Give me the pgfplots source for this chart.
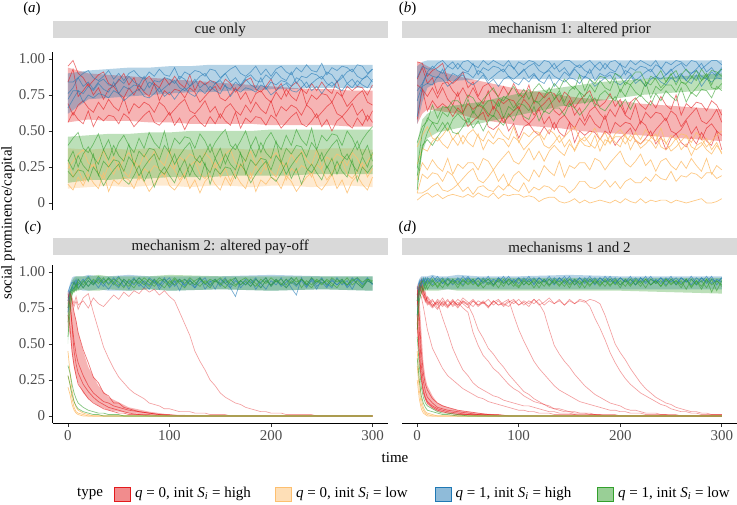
\documentclass[border=0pt]{standalone}
\usepackage{pgfplots}
\pgfplotsset{compat=1.18}
\usepackage{pgfplotstable}
\usepgfplotslibrary{fillbetween}
\usepackage{fontspec}
\setmainfont{Liberation Serif}
\definecolor{cr}{HTML}{E31A1C}
\definecolor{co}{HTML}{FDBF6F}
\definecolor{cb}{HTML}{1F78B4}
\definecolor{cg}{HTML}{33A02C}
\definecolor{strip}{HTML}{D9D9D9}
\definecolor{tk}{HTML}{4D4D4D}
\definecolor{st}{HTML}{1A1A1A}
\newcommand\F{\fontsize{15}{18}\selectfont}

% values in percent of social prominence/capital
\pgfplotstableread{
t r1 r2 r3 r4 o1 o2 o3 b1 b2 b3 b4 g1 g2 g3 g4
0 95 84 69 56 24 28 13 84 76 72 66 40 29 30 22
5 99 93 61 63 29 18 9 84 80 78 72 45 36 23 18
10 90 74 68 58 34 24 18 87 87 78 78 49 25 33 23
15 87 78 71 55 37 15 12 90 81 76 70 38 34 26 22
20 81 83 66 64 28 23 20 92 84 81 75 35 39 22 15
25 85 75 63 53 25 27 14 87 79 78 73 41 32 34 25
30 89 80 70 60 30 21 10 85 84 83 76 48 27 19 20
35 91 72 65 57 36 17 21 88 86 79 75 37 37 29 12
40 83 79 72 61 26 26 8 92 82 77 73 44 30 25 18
45 81 81 67 60 32 20 16 86 81 84 78 33 40 30 23
50 85 76 64 55 23 28 13 90 86 76 76 42 33 29 27
55 90 73 73 62 31 22 18 85 83 81 71 47 29 22 16
60 82 80 62 59 35 18 16 90 88 79 74 40 41 32 13
65 87 75 69 53 29 29 10 92 84 82 77 35 26 27 19
70 78 82 66 57 25 16 19 88 82 81 79 45 36 19 26
75 85 77 70 61 34 24 15 86 88 78 74 38 32 25 15
80 88 74 68 64 28 21 8 91 80 84 73 49 38 30 22
85 83 83 63 56 36 26 13 88 85 82 76 42 37 34 11
90 80 71 70 54 30 24 18 93 84 77 80 38 30 23 20
95 87 78 67 58 26 18 21 89 87 80 74 50 40 20 25
100 82 75 61 63 37 27 12 88 86 83 77 35 35 26 19
105 88 79 65 54 24 23 9 94 83 85 72 45 27 34 14
110 83 78 69 59 32 16 14 86 88 80 77 41 33 23 24
115 80 73 72 51 29 21 20 91 86 78 80 46 38 30 17
120 89 80 64 58 34 26 10 89 81 81 76 45 42 19 27
125 78 77 62 61 32 29 16 92 84 86 74 38 31 28 20
130 85 70 66 56 26 20 7 91 88 80 79 48 28 33 16
135 82 74 71 53 35 17 15 88 90 83 76 43 34 26 28
140 85 78 63 60 31 22 19 93 85 78 81 35 41 21 13
145 84 81 67 55 24 28 13 92 83 83 78 42 31 31 24
150 79 73 59 62 29 18 9 87 86 85 76 47 38 24 20
155 86 71 66 57 34 24 18 90 90 81 82 51 27 34 25
160 83 75 69 54 37 15 12 93 84 79 74 40 36 27 24
165 77 80 64 63 28 23 20 95 87 84 79 37 41 23 17
170 81 72 61 52 25 27 14 90 82 81 77 43 34 35 27
175 85 77 68 59 30 21 10 88 87 86 80 50 29 20 22
180 87 69 63 56 36 17 21 91 89 82 79 39 39 30 14
185 79 76 70 60 26 26 8 95 85 80 77 46 32 26 20
190 77 78 65 59 32 20 16 89 84 87 82 35 42 31 25
195 81 73 62 54 23 28 13 93 89 79 80 44 35 30 29
200 86 70 71 61 31 22 18 88 86 84 75 49 31 23 18
205 78 77 60 58 35 18 16 93 91 82 78 42 43 33 15
210 83 72 67 52 29 29 10 95 87 85 81 37 28 28 21
215 74 79 64 56 25 16 19 91 85 84 83 47 38 20 28
220 81 74 68 60 34 24 15 89 91 81 78 40 34 26 17
225 84 71 66 63 28 21 8 94 83 87 77 51 40 31 24
230 79 80 61 55 36 26 13 91 88 85 80 44 39 35 13
235 76 68 68 53 30 24 18 96 87 80 84 40 32 24 22
240 83 75 65 57 26 18 21 92 90 83 78 52 42 21 27
245 78 72 59 62 37 27 12 91 89 86 81 37 37 27 21
250 84 76 63 53 24 23 9 97 86 88 76 47 29 35 16
255 79 75 67 58 32 16 14 89 91 83 81 43 35 24 26
260 76 70 70 50 29 21 20 94 89 81 84 48 40 31 19
265 85 77 62 57 34 26 10 92 84 84 80 47 44 20 29
270 74 74 60 60 32 29 16 95 87 89 78 40 33 29 22
275 81 67 64 55 26 20 7 94 91 83 83 50 30 34 18
280 78 71 69 52 35 17 15 91 93 86 80 45 36 27 30
285 81 75 61 59 31 22 19 96 88 81 85 37 43 22 15
290 80 78 65 54 24 28 13 95 86 86 82 44 33 32 25
295 75 70 57 61 29 18 9 90 89 88 80 49 40 25 21
300 82 68 64 56 34 24 18 93 93 84 86 53 29 35 26
}\tA
\pgfplotstableread{
t rlo rhi olo ohi blo bhi glo ghi
0 56 94 10 38 62 90 14 46
20 58 90 11 37 72 92 16 47
40 57 89 12 38 73 93 16 48
60 57 88 11 37 74 94 17 48
80 56 87 12 38 75 94 17 49
100 56 86 12 38 76 95 18 49
120 55 85 11 37 77 95 18 50
140 55 84 12 38 77 96 18 50
160 55 83 12 38 78 96 19 50
180 55 82 11 37 78 96 19 50
200 54 81 12 38 79 96 19 51
220 54 80 12 38 79 96 19 51
240 54 79 11 37 80 96 20 51
260 54 79 12 38 80 96 20 51
280 53 78 12 38 80 96 20 51
300 53 78 11 37 80 96 20 51
}\bA
\pgfplotstableread{
t r1 r2 r3 r4 b1 b2 b3 b4 g1 g2 g3 g4 o1 o2 o3 o4 o5 o6
0 98 86 82 58 87 78 71 60 9 19 24 42 39 27 16 7 7 2
5 97 94 79 79 95 83 82 81 40 38 49 53 47 38 28 20 7 5
10 88 83 74 64 93 91 90 83 44 49 59 57 53 36 23 17 9 7
15 92 87 80 71 93 95 88 82 40 56 56 68 45 43 30 21 12 4
20 94 76 73 66 97 92 87 88 46 50 55 59 43 46 25 20 14 6
25 97 83 80 69 99 90 93 86 51 56 63 67 47 41 22 15 9 3
30 86 84 72 66 95 95 85 81 56 50 60 66 52 38 31 22 8 5
35 83 78 68 60 98 93 90 84 49 58 68 71 44 45 20 19 10 6
40 86 74 77 66 93 97 88 87 48 62 64 71 49 40 27 13 13 5
45 91 80 63 62 98 93 91 89 53 58 62 67 41 47 24 17 8 4
50 80 73 69 53 99 91 90 84 59 56 72 75 48 42 28 21 11 6
55 84 80 65 57 96 97 87 82 52 64 62 73 51 39 28 24 6 4
60 74 73 68 60 94 89 92 85 57 59 69 67 46 48 23 16 11 7
65 81 69 66 63 99 94 90 89 50 67 67 72 43 37 31 14 12 5
70 83 78 60 53 96 92 85 83 57 62 71 76 50 44 29 18 9 4
75 78 65 67 51 99 95 88 86 61 60 71 80 45 41 23 23 8 7
80 74 72 63 54 97 94 91 81 57 70 67 73 52 45 28 15 12 3
85 81 69 56 60 95 91 93 86 54 59 74 71 47 44 32 20 9 6
90 75 72 60 50 99 96 88 88 62 67 72 76 44 39 36 12 13 5
95 83 71 64 55 93 94 86 84 57 64 66 81 53 46 29 19 10 6
100 76 65 67 45 98 89 89 82 65 69 71 74 42 43 27 22 8 6
105 73 72 58 53 96 92 93 87 60 68 75 79 49 37 32 18 14 4
110 82 68 55 55 99 95 87 84 58 64 79 72 46 41 38 15 7 5
115 69 61 59 50 98 97 90 89 67 71 71 79 50 45 30 23 11 4
120 77 66 65 47 95 92 85 85 57 69 70 83 49 48 36 18 9 1
125 73 69 55 53 99 90 90 83 64 63 74 78 44 40 29 26 12 3
130 77 73 60 48 98 93 92 89 62 68 80 76 51 38 36 22 11 4
135 76 64 51 56 93 97 88 81 66 72 72 83 48 42 40 19 8 4
140 70 61 58 49 96 91 86 86 66 76 78 79 42 47 36 29 12 1
145 77 65 61 46 99 94 91 84 61 68 70 86 46 39 33 18 11 0
150 74 71 56 56 99 89 88 87 69 67 78 82 50 44 41 26 7 1
155 66 61 52 42 96 94 93 86 66 71 81 79 53 36 37 24 10 3
160 71 66 59 50 94 96 89 83 61 77 77 89 45 43 44 28 15 0
165 75 57 54 47 97 92 87 88 65 69 74 78 43 46 40 28 15 2
170 78 64 61 50 99 90 93 86 70 75 82 86 47 41 39 23 11 0
175 69 67 55 49 95 95 85 81 73 67 77 83 52 38 47 31 10 1
180 67 62 52 44 98 92 90 84 66 75 85 88 44 45 36 29 12 2
185 70 58 61 50 93 97 88 87 64 78 80 87 49 40 44 23 16 1
190 76 65 48 47 98 93 91 89 69 74 78 83 41 47 42 28 11 0
195 67 60 56 40 99 91 90 84 74 71 87 90 48 42 46 32 15 2
200 72 68 53 45 96 97 87 82 67 79 77 88 51 39 46 36 10 0
205 62 61 56 48 94 89 92 85 72 74 84 82 46 48 41 28 15 3
210 70 58 55 52 99 94 90 89 65 82 82 87 43 37 47 25 17 1
215 73 68 50 43 96 92 85 83 72 77 86 91 49 44 44 29 14 0
220 68 55 57 41 99 95 88 86 75 74 85 91 44 41 38 34 14 3
225 65 63 54 45 97 94 91 81 71 84 81 84 51 44 41 26 18 0
230 71 59 46 50 95 91 93 86 68 73 88 82 46 43 45 30 15 2
235 66 63 51 41 99 96 88 88 76 81 86 87 43 38 48 22 20 1
240 74 62 55 46 93 94 86 84 71 78 80 92 52 45 39 29 17 2
245 68 57 59 37 98 89 89 82 78 82 84 84 41 42 37 31 16 2
250 65 64 50 45 96 92 93 87 74 82 89 90 47 36 40 26 22 0
255 75 61 48 48 99 95 87 84 71 77 92 82 44 39 45 23 15 2
260 61 53 51 42 98 97 90 89 80 84 84 89 48 43 37 29 19 1
265 69 58 57 39 95 92 85 85 70 82 83 93 47 47 41 24 18 0
270 66 62 48 46 99 90 90 83 77 76 87 88 42 39 33 31 21 1
275 70 66 53 41 98 93 92 89 74 80 92 85 49 37 40 26 20 2
280 69 57 44 49 93 97 88 81 79 85 85 93 45 40 42 22 17 3
285 64 55 52 43 96 91 86 86 78 88 90 88 39 45 37 31 21 0
290 71 59 55 40 99 94 91 84 73 80 82 92 43 37 34 20 21 0
295 68 65 50 50 99 89 88 87 81 79 90 91 47 42 40 26 17 1
300 61 56 47 37 96 94 93 86 78 83 93 88 50 34 35 23 19 3
}\tB
\pgfplotstableread{
t rlo rhi blo bhi glo ghi
0 55 98 55 95 10 42
5 62 97 70 98 35 58
10 65 95 80 99 45 62
20 64 92 84 99 49 66
40 62 88 85 99 52 68
60 58 85 86 99 55 70
80 56 82 86 99 58 73
100 54 79 86 99 61 76
120 53 77 86 99 64 78
140 52 75 86 99 67 80
160 50 73 86 99 69 82
180 49 72 86 99 71 84
200 48 71 86 99 73 85
220 47 69 86 99 75 86
240 46 68 86 99 76 87
260 45 67 86 99 77 88
280 44 66 86 99 78 89
300 43 65 86 99 79 90
}\bB
\pgfplotstableread{
t b1 b2 b3 G1 G2 G3 s1 s2
0 72 80 86 55 65 75 78 80
2 85 88 90 72 80 85 84 86
4 90 87 93 84 88 90 80 82
6 88 94 91 90 86 93 76 78
8 93 90 95 87 92 89 80 83
10 91 95 89 93 88 95 74 77
15 95 89 93 89 94 91 82 80
20 90 94 97 94 90 96 85 75
25 94 91 92 91 95 92 72 82
30 89 96 94 95 92 97 60 78
35 95 92 90 92 96 93 48 76
40 92 88 96 96 91 95 40 80
45 96 93 92 93 95 91 33 84
50 91 97 89 90 93 96 27 81
55 94 90 95 95 89 93 23 86
60 88 94 92 92 95 90 19 83
65 95 91 96 89 92 95 16 87
70 92 96 90 94 96 92 14 85
75 89 92 94 91 93 96 12 89
80 96 88 91 95 90 93 9 86
85 93 94 95 92 95 90 8 88
90 90 91 88 96 92 94 7 84
95 95 96 93 93 89 95 5 87
100 91 89 96 90 94 92 5 83
105 94 93 90 95 91 96 4 80
110 87 95 94 92 95 93 3 72
115 95 90 91 89 92 95 3 64
120 92 94 95 94 96 91 3 56
125 89 91 89 91 93 94 2 45
130 96 96 93 95 90 96 2 38
135 91 88 96 92 94 92 2 32
140 94 93 90 89 91 95 1 25
145 88 95 94 94 95 93 1 21
150 95 90 92 91 92 96 1 16
155 92 94 96 95 89 92 1 13
160 89 91 89 92 94 95 0 11
165 83 96 94 90 96 91 0 9
170 94 89 91 94 91 94 0 8
175 91 93 95 91 94 96 0 6
180 95 90 92 95 90 93 0 5
185 88 95 96 92 95 90 0 4
190 93 92 89 89 92 95 0 3
195 96 88 94 94 96 92 0 3
200 90 94 91 91 90 96 0 2
205 94 91 95 95 94 93 0 2
210 91 96 90 92 91 95 0 2
215 95 89 93 89 95 91 0 1
220 89 93 96 94 92 96 0 1
225 84 90 91 91 96 93 0 1
230 96 95 94 95 89 95 0 1
235 90 91 89 92 94 91 0 1
240 94 96 95 89 91 96 0 1
245 88 90 92 94 95 93 0 0
250 95 93 96 91 92 95 0 0
255 92 89 90 95 94 91 0 0
260 89 95 94 92 90 96 0 0
265 96 91 91 89 95 93 0 0
270 91 94 95 94 92 95 0 0
275 94 90 89 91 96 91 0 0
280 88 96 93 95 91 94 0 0
285 95 92 96 92 94 96 0 0
290 92 89 91 89 90 93 0 0
295 96 94 94 94 95 95 0 0
300 91 92 92 92 93 94 0 0
}\tC
\pgfplotstableread{
t f1 f2 f3 f4 o1 o2 o3 l1 l2
0 82 75 70 85 28 20 45 35 28
2 86 80 62 78 22 15 30 30 22
4 80 62 45 64 12 8 18 22 15
6 72 45 35 52 6 4 10 16 10
8 66 36 28 43 3 2 6 12 7
10 58 30 22 37 2 1 4 9 5
15 46 22 17 28 1 0 2 6 3
20 37 17 12 21 0 0 1 4 2
25 27 13 9 16 0 0 0 3 1
30 23 10 7 13 0 0 0 2 1
35 16 8 5 10 0 0 0 2 0
40 14 6 4 9 0 0 0 1 0
45 9 5 3 7 0 0 0 1 0
50 9 4 2 6 0 0 0 1 0
55 6 3 2 5 0 0 0 0 0
60 5 2 1 4 0 0 0 0 0
70 3 1 1 3 0 0 0 0 0
80 2 1 0 2 0 0 0 0 0
90 1 0 0 1 0 0 0 0 0
100 1 0 0 0 0 0 0 0 0
110 0 0 0 0 0 0 0 0 0
300 0 0 0 0 0 0 0 0 0
}\tCC
\pgfplotstableread{
t bl bh gl gh rl rh
0 68 86 50 78 62 86
2 82 92 72 88 56 87
4 86 96 84 94 42 80
6 87 97 86 96 33 72
8 87 97 87 97 27 66
10 88 97 87 97 23 58
15 87 97 88 97 16 45
20 87 98 87 97 12 34
30 88 97 87 98 7 21
40 87 97 88 97 4 13
60 87 98 87 97 2 6
80 88 97 88 97 1 3
100 87 97 87 98 0 1
150 88 97 88 97 0 0
200 87 98 87 97 0 0
250 88 97 88 97 0 0
300 87 97 87 97 0 0
}\bC
\pgfplotstableread{
t b1 b2 b3 G1 G2 G3 L1 L2 L3 L4 L5 L6 L7 L8
0 70 80 88 60 70 80 78 82 80 76 84 79 81 77
2 88 92 94 80 86 90 85 88 90 86 92 87 89 91
4 92 95 90 86 90 93 83 91 86 93 88 95 90 85
6 95 91 96 90 87 94 76 86 84 88 82 86 84 89
8 91 96 93 93 91 88 68 83 79 82 86 80 81 84
10 96 92 95 88 94 91 60 80 82 78 79 83 77 80
15 93 97 91 94 90 95 47 77 76 81 75 78 80 76
20 97 93 95 90 93 89 40 79 80 75 79 74 77 81
25 92 96 92 95 89 94 33 68 77 79 76 80 82 78
30 95 91 96 91 95 90 28 58 81 76 80 77 76 75
35 91 95 93 94 92 95 25 47 76 80 77 81 79 80
40 96 92 95 89 94 91 22 39 79 77 81 76 75 77
45 93 97 91 95 90 94 19 32 75 80 78 79 80 82
50 97 93 96 91 95 92 17 28 72 77 75 77 78 79
55 92 95 93 94 91 95 15 23 58 70 80 80 81 76
60 96 91 96 90 94 90 13 20 49 60 77 76 77 80
65 93 96 92 95 89 93 12 18 42 54 79 79 80 78
70 97 92 95 91 93 95 10 16 38 47 76 75 76 81
75 91 95 91 94 90 91 9 14 33 43 80 80 79 77
80 96 93 96 89 95 94 8 13 30 38 77 77 81 80
85 93 97 92 95 92 90 7 11 26 34 79 78 77 76
90 97 91 95 91 94 95 6 10 22 29 81 76 80 79
95 92 95 93 94 90 92 5 9 19 25 70 80 78 81
100 96 92 96 90 95 89 4 8 17 21 60 77 81 77
105 93 96 91 95 91 94 4 7 14 17 52 79 77 80
110 97 93 95 91 94 91 3 7 12 15 45 76 80 78
115 91 96 92 94 89 95 3 6 10 12 38 81 78 81
120 96 92 96 89 94 92 2 5 9 10 33 78 81 77
125 93 95 93 95 90 94 2 4 8 8 29 72 77 79
130 97 91 95 91 95 90 2 3 6 7 25 60 80 82
135 92 96 91 94 92 95 1 3 5 5 21 49 78 78
140 96 93 96 90 94 91 1 2 5 4 18 43 81 80
145 93 97 92 95 90 94 1 2 4 3 16 38 77 77
150 97 92 95 91 95 89 1 2 3 3 14 34 80 81
155 91 95 93 94 91 95 1 1 3 2 12 29 78 78
160 96 91 96 89 94 92 0 1 2 2 10 25 81 80
165 93 96 92 95 89 94 0 1 2 2 9 21 80 79
170 97 93 95 91 95 90 0 1 2 1 8 18 76 81
175 92 96 91 94 92 95 0 1 1 1 7 15 68 80
180 96 92 96 90 94 91 0 0 1 1 6 13 61 78
185 93 97 93 95 90 94 0 0 1 0 5 11 53 70
190 97 93 95 91 95 90 0 0 1 0 4 9 44 60
195 92 96 92 94 91 95 0 0 1 0 4 8 37 50
200 96 91 96 89 94 91 0 0 0 0 3 7 31 44
205 93 95 93 95 90 94 0 0 0 0 3 5 26 39
210 97 92 95 91 95 90 0 0 0 0 2 4 22 33
215 91 96 91 94 91 95 0 0 0 0 2 4 19 28
220 96 93 96 90 94 92 0 0 0 0 2 3 16 23
225 93 97 92 95 89 95 0 0 0 0 1 2 14 19
230 97 91 95 91 95 91 0 0 0 0 1 2 12 16
235 92 95 93 94 92 94 0 0 0 0 1 2 10 13
240 96 92 96 90 94 90 0 0 0 0 1 1 8 11
245 93 96 91 95 90 95 0 0 0 0 1 1 7 9
250 97 93 95 91 95 92 0 0 0 0 0 1 5 8
255 91 96 92 94 91 94 0 0 0 0 0 1 4 6
260 96 92 96 89 94 91 0 0 0 0 0 0 3 5
265 93 95 93 95 88 95 0 0 0 0 0 0 3 4
270 97 91 95 90 95 89 0 0 0 0 0 0 2 3
275 92 96 91 94 91 94 0 0 0 0 0 0 2 3
280 96 93 96 88 94 90 0 0 0 0 0 0 1 2
285 93 97 92 95 89 95 0 0 0 0 0 0 1 2
290 97 92 95 91 95 86 0 0 0 0 0 0 1 1
295 91 95 93 94 87 94 0 0 0 0 0 0 1 1
300 96 93 96 90 94 91 0 0 0 0 0 0 1 1
}\tD
\pgfplotstableread{
t f1 f2 f3 f4 o1 o2 o3 l1 l2
0 85 90 70 65 45 35 25 55 40
2 70 60 45 40 25 18 12 35 25
4 45 35 28 25 12 8 5 20 14
6 30 24 18 16 6 4 2 13 9
8 22 17 13 12 3 2 1 9 6
10 18 13 10 9 2 1 0 7 4
15 12 9 7 6 1 0 0 5 3
20 9 6 5 4 0 0 0 3 2
25 7 5 4 3 0 0 0 2 1
30 6 4 3 2 0 0 0 2 1
40 4 3 2 1 0 0 0 1 0
50 3 2 1 1 0 0 0 0 0
60 2 1 1 0 0 0 0 0 0
70 1 1 0 0 0 0 0 0 0
80 1 0 0 0 0 0 0 0 0
90 0 0 0 0 0 0 0 0 0
300 0 0 0 0 0 0 0 0 0
}\tDD
\pgfplotstableread{
t bl bh gl gh rl rh
0 66 88 55 80 60 92
2 84 95 78 92 40 85
4 88 97 85 95 25 60
6 88 97 86 96 16 38
8 88 97 87 96 11 27
10 88 97 87 96 8 21
15 88 98 87 96 5 14
20 88 97 87 96 3 9
30 88 97 88 96 2 6
40 88 98 87 96 1 4
60 88 97 87 96 0 2
80 88 97 87 96 0 1
100 88 97 87 96 0 0
150 88 98 87 96 0 0
200 88 97 87 96 0 0
250 88 97 86 96 0 0
300 88 97 85 96 0 0
}\bD

\pgfplotsset{
  panel/.style={scale only axis, width=335pt, height=158.4pt,
    xmin=-15, xmax=315, ymin=-5, ymax=105,
    ytick={0,25,50,75,100}, yticklabels={0,0.25,0.50,0.75,1.00},
    xtick={0,100,200,300},
    tick align=outside, major tick length=4pt,
    axis line style={black, line width=0.6pt},
    tick style={black!80, line width=0.6pt},
    tick label style={font=\F, text=tk},
    /pgf/number format/assume math mode=true},
  ln/.style={#1, line width=0.7pt, draw opacity=0.6},
  lo/.style={co, line width=0.7pt, draw opacity=0.85},
  lp/.style={cr, line width=0.65pt, draw opacity=0.42},
}
\newcommand\band[5]{%
  \addplot[draw=none, name path=#5a] table[x=t,y=#2]{#1};
  \addplot[draw=none, name path=#5b] table[x=t,y=#3]{#1};
  \addplot[fill=#4, fill opacity=0.33, draw=none] fill between[of=#5a and #5b];}
\newcommand\pl[3]{\addplot[ln=#3] table[x=t,y=#2]{#1};}
\newcommand\po[2]{\addplot[lo] table[x=t,y=#2]{#1};}
\newcommand\pp[2]{\addplot[lp] table[x=t,y=#2]{#1};}

\begin{document}
\begin{tikzpicture}[x=1pt,y=1pt]

% (a) cue only
\begin{axis}[panel, at={(52.75pt,294.8pt)}, anchor=south west, axis x line=none, axis y line*=left]
\band{\bA}{rlo}{rhi}{cr}{ra}
\pl{\tA}{r1}{cr}\pl{\tA}{r2}{cr}\pl{\tA}{r3}{cr}\pl{\tA}{r4}{cr}
\band{\bA}{olo}{ohi}{co}{oa}
\po{\tA}{o1}\po{\tA}{o2}\po{\tA}{o3}
\band{\bA}{blo}{bhi}{cb}{ba}
\pl{\tA}{b1}{cb}\pl{\tA}{b2}{cb}\pl{\tA}{b3}{cb}\pl{\tA}{b4}{cb}
\band{\bA}{glo}{ghi}{cg}{ga}
\pl{\tA}{g1}{cg}\pl{\tA}{g2}{cg}\pl{\tA}{g3}{cg}\pl{\tA}{g4}{cg}
\end{axis}

% (b) mechanism 1
\begin{axis}[panel, at={(402pt,294.8pt)}, anchor=south west, hide axis]
\band{\bB}{rlo}{rhi}{cr}{rb}
\pl{\tB}{r1}{cr}\pl{\tB}{r2}{cr}\pl{\tB}{r3}{cr}\pl{\tB}{r4}{cr}
\po{\tB}{o1}\po{\tB}{o2}\po{\tB}{o3}\po{\tB}{o4}\po{\tB}{o5}\po{\tB}{o6}
\band{\bB}{blo}{bhi}{cb}{bb}
\pl{\tB}{b1}{cb}\pl{\tB}{b2}{cb}\pl{\tB}{b3}{cb}\pl{\tB}{b4}{cb}
\band{\bB}{glo}{ghi}{cg}{gb}
\pl{\tB}{g1}{cg}\pl{\tB}{g2}{cg}\pl{\tB}{g3}{cg}\pl{\tB}{g4}{cg}
\end{axis}

% (c) mechanism 2
\begin{axis}[panel, at={(52.75pt,81.8pt)}, anchor=south west, axis x line*=bottom, axis y line*=left]
\band{\bC}{rl}{rh}{cr}{rc}
\pl{\tCC}{f1}{cr}\pl{\tCC}{f2}{cr}\pl{\tCC}{f3}{cr}\pl{\tCC}{f4}{cr}
\pp{\tC}{s1}\pp{\tC}{s2}
\po{\tCC}{o1}\po{\tCC}{o2}\po{\tCC}{o3}
\band{\bC}{bl}{bh}{cb}{bc}
\pl{\tC}{b1}{cb}\pl{\tC}{b2}{cb}\pl{\tC}{b3}{cb}
\band{\bC}{gl}{gh}{cg}{gc}
\pl{\tC}{G1}{cg}\pl{\tC}{G2}{cg}\pl{\tC}{G3}{cg}
\pl{\tCC}{l1}{cg}\pl{\tCC}{l2}{cg}
\end{axis}

% (d) mechanisms 1 and 2
\begin{axis}[panel, at={(402pt,81.8pt)}, anchor=south west, axis x line*=bottom, axis y line=none]
\band{\bD}{rl}{rh}{cr}{rd}
\pl{\tDD}{f1}{cr}\pl{\tDD}{f2}{cr}\pl{\tDD}{f3}{cr}\pl{\tDD}{f4}{cr}
\pp{\tD}{L1}\pp{\tD}{L2}\pp{\tD}{L3}\pp{\tD}{L4}
\pp{\tD}{L5}\pp{\tD}{L6}\pp{\tD}{L7}\pp{\tD}{L8}
\po{\tDD}{o1}\po{\tDD}{o2}\po{\tDD}{o3}
\band{\bD}{bl}{bh}{cb}{bd}
\pl{\tD}{b1}{cb}\pl{\tD}{b2}{cb}\pl{\tD}{b3}{cb}
\band{\bD}{gl}{gh}{cg}{gd}
\pl{\tD}{G1}{cg}\pl{\tD}{G2}{cg}\pl{\tD}{G3}{cg}
\pl{\tDD}{l1}{cg}\pl{\tDD}{l2}{cg}
\end{axis}

% facet strips
\fill[strip] (52.75,466.5) rectangle (387.75,483.5);
\fill[strip] (402,466.5) rectangle (737,483.5);
\fill[strip] (52.75,249.5) rectangle (387.75,266.5);
\fill[strip] (402,249.5) rectangle (737,266.5);
\node[font=\F, text=st] at (220.25,475) {cue only};
\node[font=\F, text=st] at (569.5,475) {mechanism 1: altered prior};
\node[font=\F, text=st] at (220.25,258) {mechanism 2: altered pay-off};
\node[font=\F, text=st] at (569.5,258) {mechanisms 1 and 2};

% panel tags
\node[font=\F, inner sep=0pt] at (32,496) {(\textit{a})};
\node[font=\F, inner sep=0pt] at (407.5,496) {(\textit{b})};
\node[font=\F, inner sep=0pt] at (33,277.5) {(\textit{c})};
\node[font=\F, inner sep=0pt] at (407.5,277.5) {(\textit{d})};

% axis titles
\node[font=\F, rotate=90, inner sep=0pt] at (8,282) {social prominence/capital};
\node[font=\F, inner sep=0pt] at (395,47) {time};

% legend
\node[font=\F, anchor=west, inner sep=0pt] at (77,11) {type};
\filldraw[fill=cr!50, draw=cr, line width=0.8pt] (114,4) rectangle (130.5,18);
\node[font=\F, anchor=west, inner sep=0pt] at (135,11) {\textit{q} = 0, init \textit{S}\textsubscript{\textit{i}} = high};
\filldraw[fill=co!50, draw=co, line width=0.8pt] (275,4) rectangle (291.5,18);
\node[font=\F, anchor=west, inner sep=0pt] at (296,11) {\textit{q} = 0, init \textit{S}\textsubscript{\textit{i}} = low};
\filldraw[fill=cb!50, draw=cb, line width=0.8pt] (435,4) rectangle (451.5,18);
\node[font=\F, anchor=west, inner sep=0pt] at (455.5,11) {\textit{q} = 1, init \textit{S}\textsubscript{\textit{i}} = high};
\filldraw[fill=cg!50, draw=cg, line width=0.8pt] (597,4) rectangle (613.5,18);
\node[font=\F, anchor=west, inner sep=0pt] at (618,11) {\textit{q} = 1, init \textit{S}\textsubscript{\textit{i}} = low};

\pgfresetboundingbox
\path[use as bounding box] (0,0) rectangle (737,505);
\end{tikzpicture}
\end{document}
